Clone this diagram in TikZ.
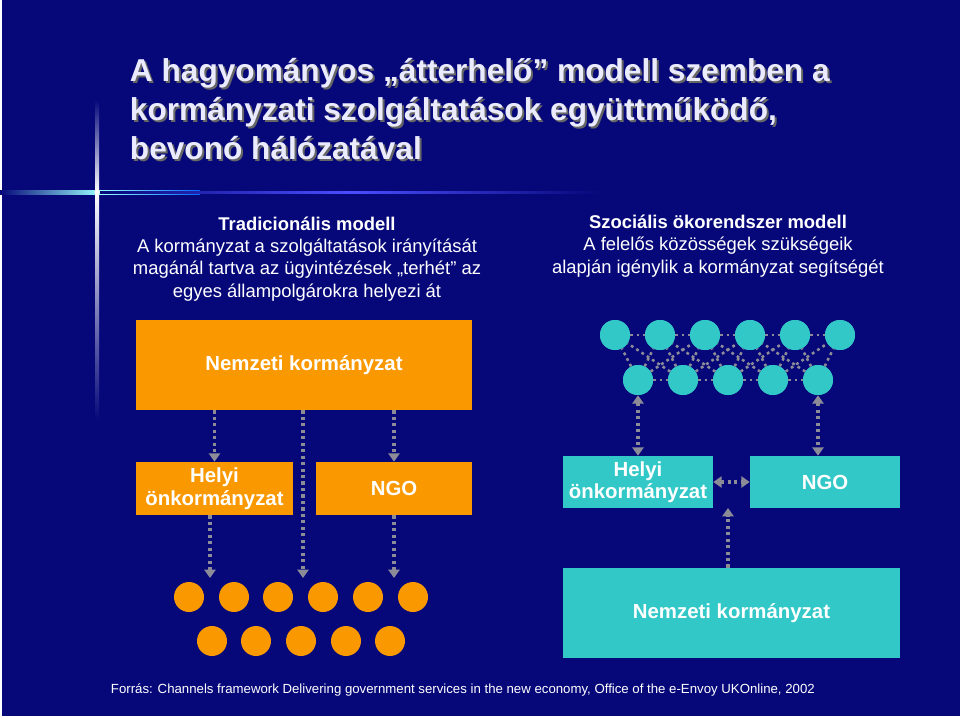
\documentclass[tikz,border=0pt]{standalone}
\usepackage{fontspec}
\setmainfont{Liberation Sans}
\usetikzlibrary{arrows.meta}
\definecolor{bg}{RGB}{6,8,122}
\definecolor{org}{RGB}{250,152,0}
\definecolor{cya}{RGB}{50,200,200}
\definecolor{arr}{RGB}{140,140,152}
\tikzset{
 x=0.025cm,y=-0.025cm,
 obox/.style={fill=org,draw=none,text=white,font=\bfseries\fontsize{14.5}{16}\selectfont,align=center,inner sep=0pt},
 cbox/.style={fill=cya,draw=none,text=white,font=\bfseries\fontsize{14.5}{16}\selectfont,align=center,inner sep=0pt},
 odot/.style={circle,fill=org,minimum size=0.75cm,inner sep=0pt},
 cdot/.style={circle,fill=cya,minimum size=0.75cm,inner sep=0pt},
 conn/.style={draw=arr,line width=2.3pt,dash pattern=on 2.3pt off 2.3pt,-{Triangle[length=6pt,width=8pt]}},
 bconn/.style={conn,{Triangle[length=6pt,width=8pt]}-{Triangle[length=6pt,width=8pt]}},
 net/.style={draw=arr,line width=1.8pt,dash pattern=on 2pt off 2.5pt},
 body/.style={text=white,align=center,font=\fontsize{13.1}{15.8}\selectfont},
 ttl/.style={font=\bfseries\fontsize{22.5}{27.5}\selectfont,align=left,anchor=west},
}
\begin{document}
\begin{tikzpicture}
\fill[bg] (0,0) rectangle (960,716);
\useasboundingbox (0,0) rectangle (960,716);
\fill[white] (0,0) rectangle (2,716);
% glow lines
\shade[left color=bg,right color=blue!60!cyan,middle color=cyan!40!white] (0,190) rectangle (200,194);
\shade[left color=bg,right color=bg,middle color=blue!70!white] (100,191) rectangle (600,193);
\shade[top color=bg,bottom color=white] (95,100) rectangle (99,192);
\shade[top color=white,bottom color=bg] (95,192) rectangle (99,420);
\fill[white] (97,192) circle[radius=2.5];
% title
\node[ttl,text=black!60] (tsh) at (127,111) {A hagyományos „átterhelő” modell szemben a\\kormányzati szolgáltatások együttműködő,\\bevonó hálózatával};
\node[ttl,text=white!92!blue] (title) at (125,109) {A hagyományos „átterhelő” modell szemben a\\kormányzati szolgáltatások együttműködő,\\bevonó hálózatával};
% descriptions
\node[body] (ltext) at (307,259) {\textbf{Tradicionális modell}\\A kormányzat a szolgáltatások irányítását\\magánál tartva az ügyintézések „terhét” az\\egyes állampolgárokra helyezi át};
\node[body] (rtext) at (718,246) {\textbf{Szociális ökorendszer modell}\\A felelős közösségek szükségeik\\alapján igénylik a kormányzat segítségét};
% left model
\node[obox,minimum width=8.4cm,minimum height=2.25cm] (nk) at (304,365) {Nemzeti kormányzat};
\node[obox,minimum width=3.925cm,minimum height=1.325cm] (helyi) at (214.5,488.5) {Helyi\\önkormányzat};
\node[obox,minimum width=3.9cm,minimum height=1.325cm] (ngo) at (394,488.5) {NGO};
\foreach \x [count=\i] in {189,234,278,323,368,413} \node[odot] (o\i) at (\x,597) {};
\foreach \x [count=\i] in {212,256,301,346,390} \node[odot] (p\i) at (\x,641) {};
\coordinate (a1) at (210,578); \coordinate (a2) at (303,578); \coordinate (a3) at (394,578);
\draw[conn] (nk.south -| helyi.north) -- (helyi.north);
\draw[conn] (nk.south -| ngo.north) -- (ngo.north);
\draw[conn] (nk.south -| a2) -- (a2);
\draw[conn] (helyi.south -| a1) -- (a1);
\draw[conn] (ngo.south -| a3) -- (a3);
% right model network
\foreach \x [count=\i] in {615,660,705,750,795,840} \node[cdot] (c\i) at (\x,335) {};
\foreach \x [count=\i] in {638,683,728,773,818} \node[cdot] (d\i) at (\x,380) {};
\foreach \i [evaluate=\i as \j using int(\i+1)] in {1,...,5} \draw[net] (c\i) -- (c\j);
\foreach \i [evaluate=\i as \j using int(\i+1)] in {1,...,4} \draw[net] (d\i) -- (d\j);
\foreach \i [evaluate=\i as \j using int(\i+1)] in {1,...,5} {\draw[net] (d\i) -- (c\i); \draw[net] (d\i) -- (c\j);}
\foreach \i [evaluate=\i as \j using int(\i+2)] in {1,...,4} \draw[net] (d\i) -- (c\j);
\foreach \i [evaluate=\i as \j using int(\i-1)] in {2,...,5} \draw[net] (d\i) -- (c\j);
\foreach \i in {1,...,6} \node[cdot] at (c\i) {};
\foreach \i in {1,...,5} \node[cdot] at (d\i) {};
\node[cbox,minimum width=3.75cm,minimum height=1.3cm] (ch) at (638,482) {Helyi\\önkormányzat};
\node[cbox,minimum width=3.75cm,minimum height=1.3cm] (cn) at (825,482) {NGO};
\node[cbox,minimum width=8.425cm,minimum height=2.25cm] (cnk) at (731.5,613) {Nemzeti kormányzat};
\draw[bconn] (d1) -- (ch.north -| d1);
\draw[bconn] (d5) -- (cn.north -| d5);
\draw[bconn] (ch.east) -- (cn.west);
\draw[conn] (cnk.north -| 728,0) -- (728,508);
% footer
\node[anchor=west,text=white,font=\fontsize{9.4}{11}\selectfont] (src) at (106,690) {Forrás: Channels framework Delivering government services in the new economy, Office of the e-Envoy UKOnline, 2002};
\end{tikzpicture}
\end{document}
